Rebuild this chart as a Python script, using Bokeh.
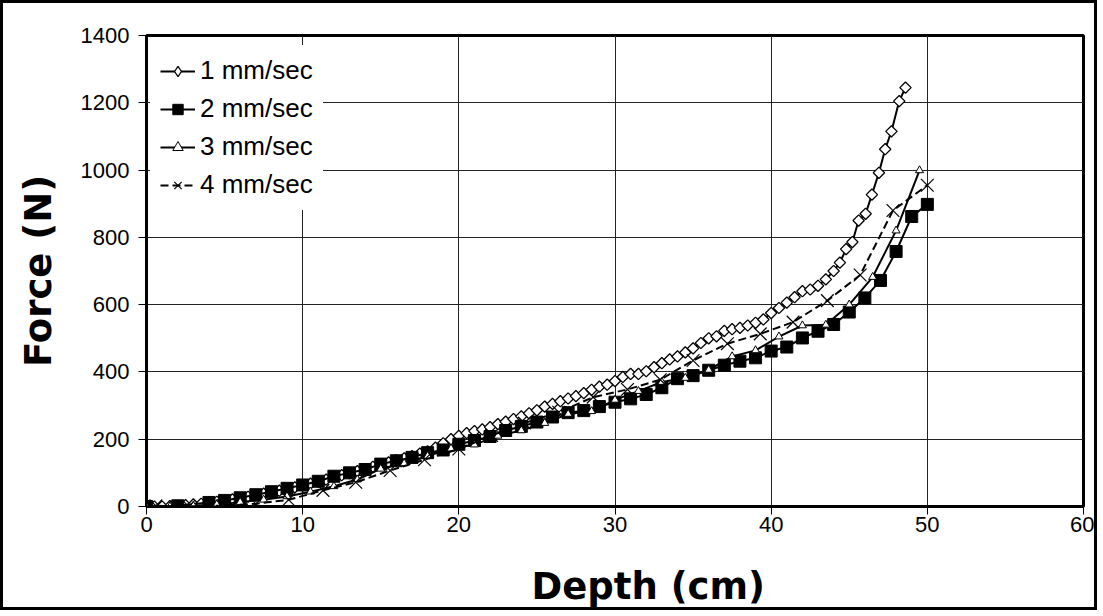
import math
from bokeh.plotting import figure
from bokeh.models import Range1d, FixedTicker, Legend, LegendItem, LinearAxis, Title
from bokeh.embed import file_html
from bokeh.resources import INLINE

# Penetration force vs depth at four penetration rates
depth_1mm = [0, 0.5, 1, 1.5, 2, 2.5, 3, 3.5, 4, 4.5, 5, 5.5, 6, 6.5, 7, 7.5, 8, 8.5, 9, 9.5,
             10, 10.5, 11, 11.5, 12, 12.5, 13, 13.5, 14, 14.5, 15, 15.5, 16, 16.5, 17, 17.5,
             18, 18.5, 19, 19.5, 20, 20.5, 21, 21.5, 22, 22.5, 23, 23.5, 24, 24.5, 25, 25.5,
             26, 26.5, 27, 27.5, 28, 28.5, 29, 29.5, 30, 30.5, 31, 31.5, 32, 32.5, 33, 33.5,
             34, 34.5, 35, 35.5, 36, 36.5, 37, 37.5, 38, 38.5, 39, 39.5, 40, 40.5, 41, 41.5,
             42, 42.5, 43, 43.5, 44, 44.4, 44.8, 45.2, 45.6, 46.05, 46.45, 46.9, 47.3, 47.7,
             48.2, 48.6]
force_1mm = [0, 0, 0, 1, 2, 4, 6, 8, 11, 14, 17, 21, 25, 29, 33, 38, 42, 47, 52, 57,
             62, 68, 74, 80, 87, 93, 99, 105, 111, 118, 125, 131, 137, 143, 150, 157,
             164, 175, 188, 200, 210, 218, 224, 229, 236, 245, 252, 260, 268, 277, 286, 297,
             305, 313, 321, 328, 337, 347, 356, 362, 373, 385, 394, 394, 402, 414, 426, 437,
             446, 458, 470, 486, 500, 506, 522, 527, 531, 538, 546, 556, 575, 590, 606, 622,
             640, 645, 656, 675, 700, 725, 765, 786, 850, 870, 927, 992, 1062, 1115,
             1205, 1245]

depth_2mm = [0, 2, 4, 5, 6, 7, 8, 9, 10, 11, 12, 13, 14, 15, 16, 17, 18, 19, 20, 21, 22,
             23, 24, 25, 26, 27, 28, 29, 30, 31, 32, 33, 34, 35, 36, 37, 38, 39, 40, 41,
             42, 43, 44, 45, 46, 47, 48, 49, 50]
force_2mm = [0, 2, 12, 18, 26, 35, 44, 54, 64, 75, 90, 100, 110, 126, 136, 146, 160, 168,
             185, 196, 208, 226, 238, 251, 266, 279, 285, 297, 310, 320, 333, 353, 380, 389,
             405, 420, 432, 442, 462, 474, 501, 521, 541, 578, 620, 672, 758, 862, 898]

depth_3mm = [0, 1.5, 3, 4.5, 6, 7.5, 9, 10.5, 12, 13.5, 15, 16.5, 18, 19.5, 21, 22.5, 24,
             25.5, 27, 28.5, 30, 31.5, 33, 34.5, 36, 37.5, 39, 40.5, 42, 43.5, 45, 46.5,
             48, 49.5]
force_3mm = [0, 0, 2, 6, 13, 20, 30, 44, 60, 80, 112, 128, 150, 172, 184, 210, 226,
             248, 275, 283, 317, 343, 370, 382, 406, 446, 464, 505, 538, 540, 600, 682,
             820, 999]

depth_4mm = [0.6, 2.7, 4.9, 7.0, 9.1, 11.3, 13.4, 15.6, 17.8, 20.0, 22.1, 24.2, 26.4,
             28.6, 30.8, 32.9, 35.0, 37.2, 39.3, 41.4, 43.6, 45.7, 47.8, 50.0]
force_4mm = [2, 0, 3, 8, 20, 48, 72, 107, 139, 171, 211, 248, 280, 325, 348, 377, 434,
             484, 513, 548, 612, 688, 880, 955]

x_ticks = [0, 10, 20, 30, 40, 50, 60]
y_ticks = [0, 200, 400, 600, 800, 1000, 1200, 1400]

FONT = "Liberation Sans"
TITLE_FONT = "DejaVu Sans"

p = figure(width=1097, height=610, output_backend="svg", toolbar_location=None,
           x_range=Range1d(0, 60), y_range=Range1d(0, 1400),
           min_border_left=143, min_border_right=17, min_border_top=32,
           min_border_bottom=107,
           background_fill_color="white", border_fill_color="white",
           styles={"border": "3px solid black"})

p.outline_line_color = "black"
p.outline_line_width = 3
p.outline_line_alpha = 1

for ax in (p.xaxis[0], p.yaxis[0]):
    ax.axis_line_color = "black"
    ax.axis_line_width = 2
    ax.major_tick_line_color = "black"
    ax.major_tick_line_width = 1
    ax.major_tick_in = 0
    ax.major_tick_out = 8
    ax.minor_tick_line_color = None
    ax.major_label_text_font = FONT
    ax.major_label_text_font_size = "22px"
    ax.major_label_text_color = "black"

p.xaxis.ticker = FixedTicker(ticks=x_ticks)
p.yaxis.ticker = FixedTicker(ticks=y_ticks)
p.xaxis.major_label_standoff = 2
p.yaxis.major_label_standoff = 9

p.yaxis.axis_label = "Force (N)"
p.yaxis.axis_label_text_font = TITLE_FONT
p.yaxis.axis_label_text_font_style = "bold"
p.yaxis.axis_label_text_font_size = "37px"
p.yaxis.axis_label_text_color = "black"
p.yaxis.axis_label_standoff = 18

# blank band under the tick labels
spacer = LinearAxis(ticker=FixedTicker(ticks=[]), axis_line_color=None,
                    major_tick_line_color=None, minor_tick_line_color=None,
                    major_tick_in=0, major_tick_out=0, minor_tick_out=0,
                    axis_label=" ", axis_label_standoff=24,
                    axis_label_text_font_size="2px")
p.add_layout(spacer, "below")

# x-axis title, a little right of the frame centre
p.add_layout(Title(text="Depth (cm)", align="left", offset=385, standoff=0,
                   vertical_align="middle", text_font=TITLE_FONT,
                   text_font_style="bold", text_font_size="37px",
                   text_color="black"), "below")

p.xgrid.grid_line_color = "#222222"
p.ygrid.grid_line_color = "#222222"
p.xgrid.grid_line_width = 1
p.ygrid.grid_line_width = 1

# 1 mm/sec: open diamonds
l1 = p.line(depth_1mm, force_1mm, line_color="black", line_width=2)
p.scatter(depth_1mm, force_1mm, marker="square", angle=math.pi / 4, size=8,
          fill_color="white", line_color="black", line_width=1.3)
# off-frame point that only supplies the legend swatch
k1 = p.scatter([-10], [-100], marker="diamond", size=12, fill_color="white",
               line_color="black", line_width=1.3)

# 2 mm/sec: filled squares
l2 = p.line(depth_2mm, force_2mm, line_color="black", line_width=2)
m2 = p.scatter(depth_2mm, force_2mm, marker="square", size=12,
               fill_color="black", line_color="black", line_width=1)

# 3 mm/sec: open triangles
l3 = p.line(depth_3mm, force_3mm, line_color="black", line_width=2)
m3 = p.scatter(depth_3mm, force_3mm, marker="triangle", size=8,
               fill_color="white", line_color="black", line_width=1)

# 4 mm/sec: crosses on a dashed line
l4 = p.line(depth_4mm, force_4mm, line_color="black", line_width=2, line_dash="8 4")
m4 = p.scatter(depth_4mm, force_4mm, marker="x", size=18,
               line_color="black", line_width=1.2)

lg = Legend(items=[LegendItem(label="1 mm/sec", renderers=[l1, k1]),
                   LegendItem(label="2 mm/sec", renderers=[l2, m2]),
                   LegendItem(label="3 mm/sec", renderers=[l3, m3]),
                   LegendItem(label="4 mm/sec", renderers=[l4, m4])])
lg.location = (4, 296)
lg.background_fill_color = "white"
lg.background_fill_alpha = 1
lg.border_line_alpha = 0
lg.padding = 10
lg.margin = 0
lg.spacing = 7
lg.glyph_width = 35
lg.glyph_height = 26
lg.label_height = 26
lg.label_standoff = 5
lg.label_text_font = FONT
lg.label_text_font_size = "26px"
lg.label_text_color = "black"
p.add_layout(lg, "center")

open("out.html", "w").write(file_html(p, INLINE))
